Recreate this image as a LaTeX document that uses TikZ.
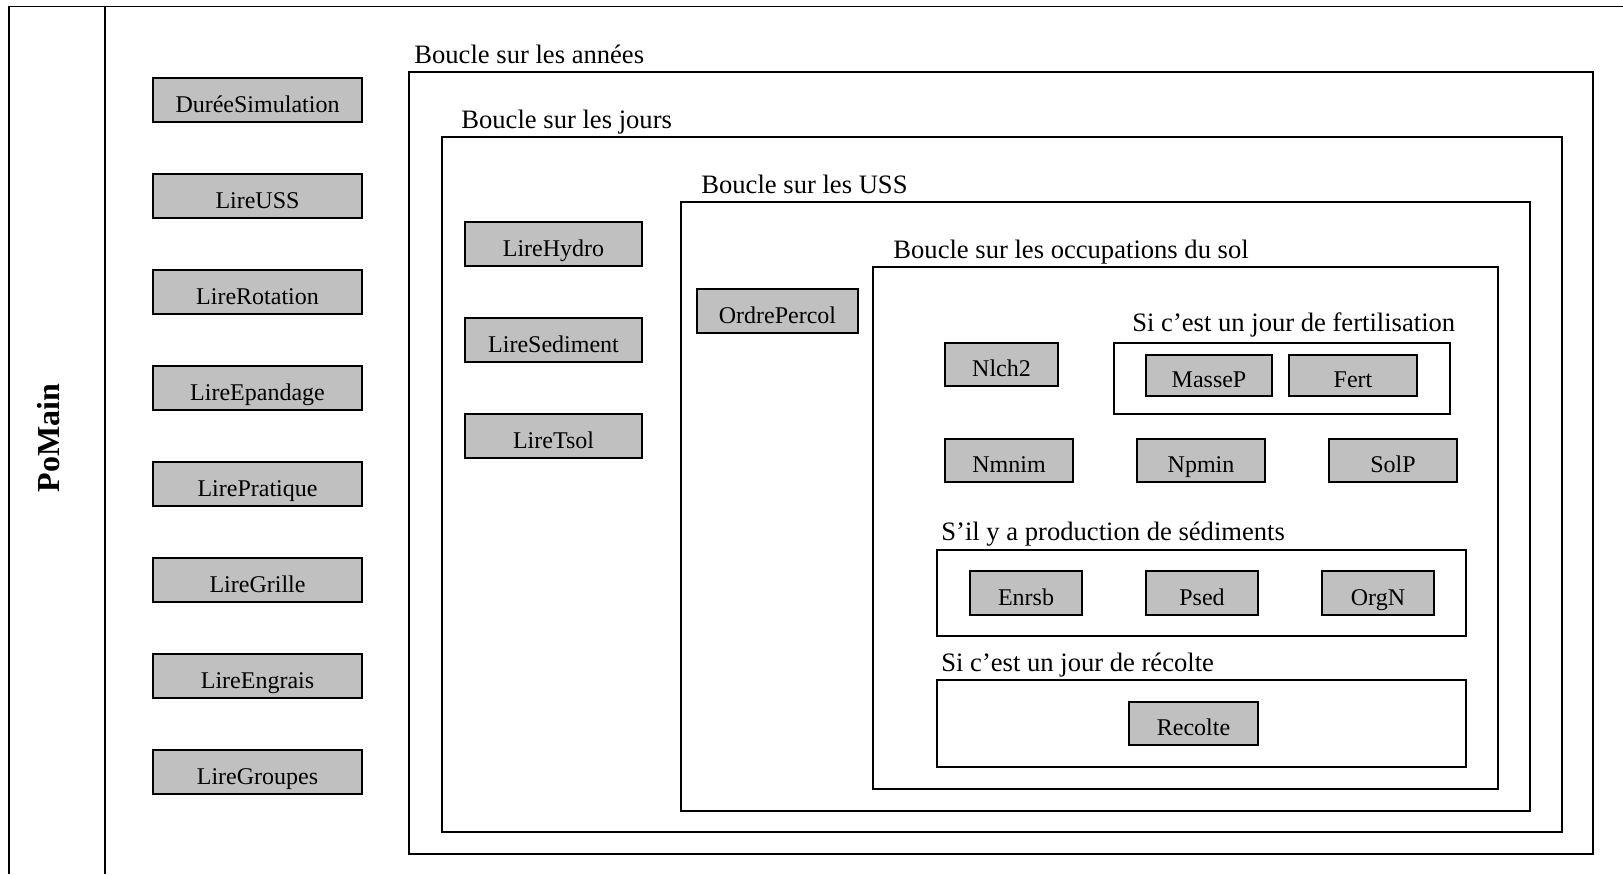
\documentclass[tikz,border=0pt]{standalone}
\usepackage{fontspec}
\setmainfont{Liberation Serif}
\usepackage{tikz}
\definecolor{boxgray}{RGB}{192,192,192}
\tikzset{
  font={\fontsize{12pt}{14}\selectfont},
  fn/.style={draw=black, fill=boxgray, line width=0.6pt, inner sep=0pt,
    minimum height=22pt, text height=12pt, text depth=0pt},
  looplabel/.style={anchor=base west, inner sep=0pt,
    font={\fontsize{13.3pt}{16}\selectfont}},
  frame/.style={draw=black, line width=0.6pt}}

\begin{document}
\begin{tikzpicture}[x=0.5pt,y=-0.5pt]
\useasboundingbox (0,0) rectangle (1623,874);
\draw [frame] (9,874) -- (9,6.5) -- (1623,6.5);
\draw [frame] (105,6.5) -- (105,874);
\node [rotate=90, inner sep=0pt, font={\fontsize{16pt}{18}\selectfont\bfseries}] (pomain) at (49,438) {PoMain};
% lectures initiales
\node [fn, minimum width=104.5pt] (duree) at (257.5,100) {DuréeSimulation};
\node [fn, minimum width=104.5pt] (lireuss) at (257.5,196) {LireUSS};
\node [fn, minimum width=104.5pt] (lirerot) at (257.5,292) {LireRotation};
\node [fn, minimum width=104.5pt] (lireepa) at (257.5,388) {LireEpandage};
\node [fn, minimum width=104.5pt] (lirepra) at (257.5,484) {LirePratique};
\node [fn, minimum width=104.5pt] (liregri) at (257.5,580) {LireGrille};
\node [fn, minimum width=104.5pt] (lireeng) at (257.5,676) {LireEngrais};
\node [fn, minimum width=104.5pt] (liregrp) at (257.5,772) {LireGroupes};
% boucle sur les annees
\draw [frame] (409,72) rectangle (1593,854);
\node [looplabel] (lannees) at (414,63) {Boucle sur les années};
% boucle sur les jours
\draw [frame] (442,137) rectangle (1562,832);
\node [looplabel] (ljours) at (461,128) {Boucle sur les jours};
\node [fn, minimum width=88.5pt] (lirehyd) at (553.5,244) {LireHydro};
\node [fn, minimum width=88.5pt] (liresed) at (553.5,340) {LireSediment};
\node [fn, minimum width=88.5pt] (liretsol) at (553.5,436) {LireTsol};
% boucle sur les USS
\draw [frame] (681,202) rectangle (1530,811);
\node [looplabel] (luss) at (701,193) {Boucle sur les USS};
\node [fn, minimum width=80.5pt] (ordre) at (777.5,311) {OrdrePercol};
% boucle sur les occupations du sol
\draw [frame] (873,267) rectangle (1498,789);
\node [looplabel] (locc) at (893,258) {Boucle sur les occupations du sol};
\node [fn, minimum width=56.5pt, minimum height=21.5pt] (nlch) at (1001.5,364.5) {Nlch2};
\draw [frame] (1114,343) rectangle (1450,414);
\node [looplabel] (lfert) at (1132,331) {Si c’est un jour de fertilisation};
\node [fn, minimum width=63pt, minimum height=20.5pt] (massep) at (1209,375.5) {MasseP};
\node [fn, minimum width=64pt, minimum height=20.5pt] (fert) at (1353,375.5) {Fert};
\node [fn, minimum width=64pt, minimum height=21.5pt] (nmnim) at (1009,460.5) {Nmnim};
\node [fn, minimum width=64pt, minimum height=21.5pt] (npmin) at (1201,460.5) {Npmin};
\node [fn, minimum width=64pt, minimum height=21.5pt] (solp) at (1393,460.5) {SolP};
% sediments
\draw [frame] (937,550) rectangle (1466,636);
\node [looplabel] (lsed) at (941,540) {S’il y a production de sédiments};
\node [fn, minimum width=56pt] (enrsb) at (1026,593) {Enrsb};
\node [fn, minimum width=56pt] (psed) at (1202,593) {Psed};
\node [fn, minimum width=56pt] (orgn) at (1378,593) {OrgN};
% recolte
\draw [frame] (937,680) rectangle (1466,767);
\node [looplabel] (lrec) at (941,671) {Si c’est un jour de récolte};
\node [fn, minimum width=64.5pt, minimum height=21.5pt] (recolte) at (1193.5,723.5) {Recolte};
\end{tikzpicture}
\end{document}
